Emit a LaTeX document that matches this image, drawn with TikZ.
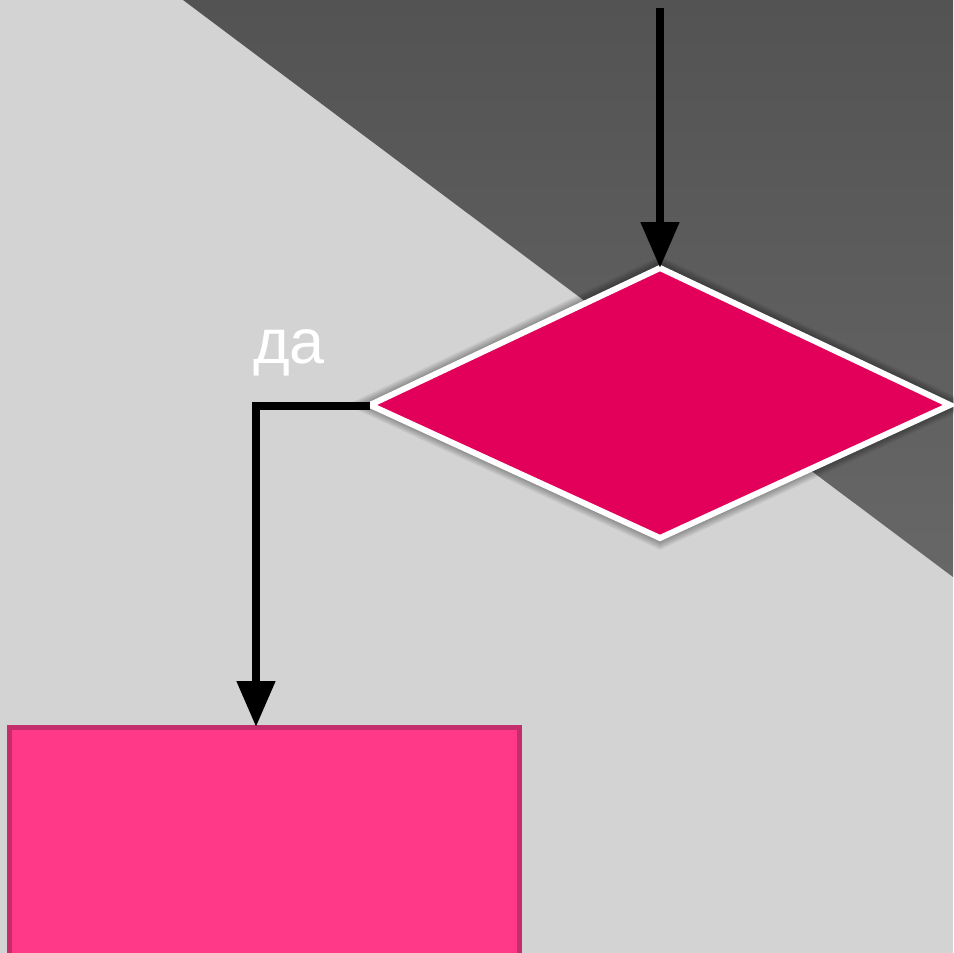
\documentclass[tikz,border=0pt]{standalone}
\usepackage{fontspec}
\setmainfont{Liberation Sans}
\usetikzlibrary{arrows.meta,shapes.geometric}
\definecolor{bg}{HTML}{D3D3D3}
\definecolor{dtop}{HTML}{535353}
\definecolor{dbot}{HTML}{676767}
\definecolor{dfill}{HTML}{E2005A}
\definecolor{rfill}{HTML}{FF3888}
\definecolor{rborder}{HTML}{C42D6B}
\tikzset{
  conn/.style={line width=8pt, draw=black, -{Triangle[width=37pt,length=46pt]}},
  decision/.style={fill=dfill, draw=white, line width=6pt, line join=miter},
  procbox/.style={fill=rfill, draw=rborder, line width=5pt},
  lbl/.style={text=white, font=\fontsize{63}{70}\selectfont, inner sep=0pt}
}
\begin{document}
\begin{tikzpicture}[x=1pt,y=-1pt]
\useasboundingbox (0,0) rectangle (953,953);
\fill[bg] (0,0) rectangle (953,953);
\shade[top color=dtop, bottom color=dbot] (183,0) -- (953,0) -- (953,577) -- cycle;
% soft shadow
\foreach \k in {1,...,12} {
  \fill[black, opacity=0.04] (660,268-\k) -- (370-2*\k,405) -- (660,538+\k) -- (950+2*\k,405) -- cycle;
}
\draw[decision] (660,268) -- (370,405) -- (660,538) -- (950,405) -- cycle;
\coordinate (dtopc) at (660,268);
\coordinate (dleft) at (370,406);
\coordinate (start) at (660,8);
\draw[procbox] (9,727) rectangle (519,955);
\coordinate (boxtop) at (256,727);
\draw[conn] (start) -- (dtopc);
\draw[conn] (dleft) -| (boxtop);
\node[lbl, anchor=base] (da) at (289,363) {да};
\end{tikzpicture}
\end{document}
